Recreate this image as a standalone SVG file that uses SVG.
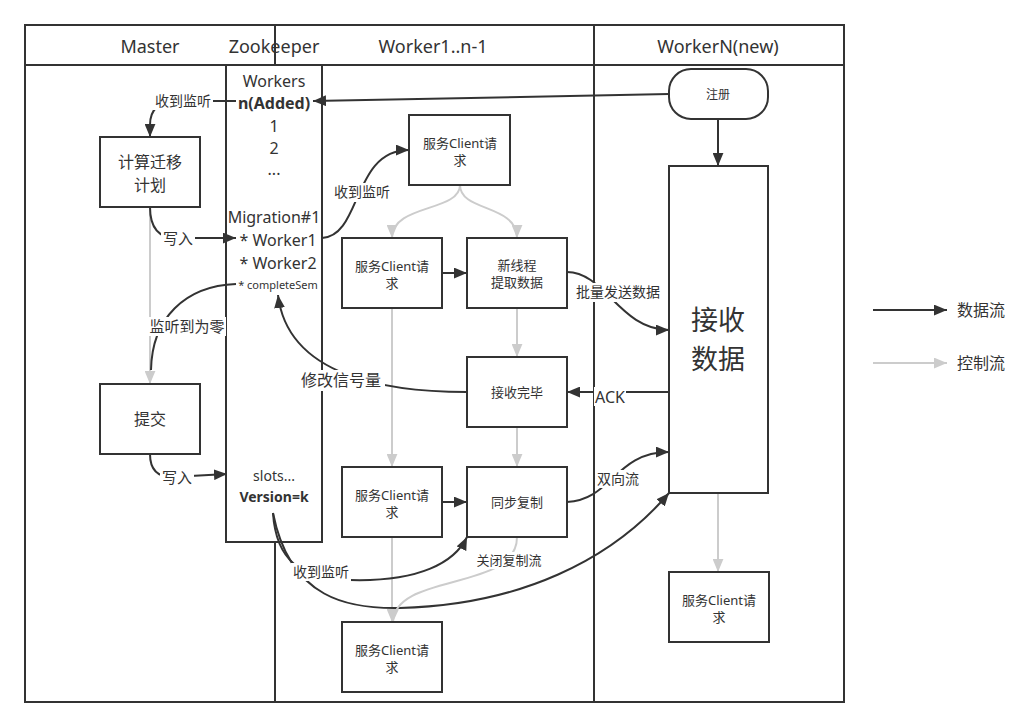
<svg xmlns="http://www.w3.org/2000/svg" width="1036" height="728" viewBox="0 0 1036 728">
<defs>
<style>
text{font-family:"Noto Sans","Noto Sans CJK SC",sans-serif;fill:#333;text-anchor:middle}
.pool{fill:none;stroke:#333;stroke-width:2}
.box{fill:#fff;stroke:#333;stroke-width:2}
.e{fill:none;stroke:#333;stroke-width:2}
.g{fill:none;stroke:#ccc;stroke-width:2}
.lb{fill:#fff}
.h{font-size:18px}
.zk{font-size:16px}
.n13{font-size:13px}
.n16{font-size:16px}
.l14{font-size:14px}
.l15{font-size:15px}
.leg{font-size:16px;text-anchor:start}
</style>
<marker id="ab" viewBox="0 0 12 10" refX="12" refY="5" markerWidth="13" markerHeight="11" markerUnits="userSpaceOnUse" orient="auto"><path d="M0,0 L12,5 L0,10 z" fill="#333"/></marker>
<marker id="ag" viewBox="0 0 12 10" refX="12" refY="5" markerWidth="13" markerHeight="11" markerUnits="userSpaceOnUse" orient="auto"><path d="M0,0 L12,5 L0,10 z" fill="#ccc"/></marker>
</defs>
<rect width="1036" height="728" fill="#fff"/>

<g id="pool-master">
<rect class="pool" x="25" y="25" width="250" height="677"/>
<line class="pool" x1="25" y1="65" x2="275" y2="65"/>
<text class="h" x="150" y="53">Master</text>
</g>
<g id="pool-worker">
<rect class="pool" x="275" y="25" width="319" height="677"/>
<line class="pool" x1="275" y1="65" x2="594" y2="65"/>
<text class="h" x="433" y="53">Worker1..n-1</text>
</g>
<g id="pool-workern">
<rect class="pool" x="594" y="25" width="250" height="677"/>
<line class="pool" x1="594" y1="65" x2="844" y2="65"/>
<text class="h" x="718" y="53">WorkerN(new)</text>
</g>
<g id="zookeeper-header">
<text class="h" x="274" y="53">Zookeeper</text>
</g>

<g id="zookeeper">
<rect class="box" x="226" y="65" width="96" height="477"/>
<text class="zk" x="274" y="87">Workers</text>
<text class="zk" x="274" y="109" font-weight="bold">n(Added)</text>
<text class="zk" x="274" y="132">1</text>
<text class="zk" x="274" y="154">2</text>
<text class="zk" x="274" y="175">...</text>
<text class="zk" x="274" y="223">Migration#1</text>
<text class="zk" x="278" y="246">* Worker1</text>
<text class="zk" x="278" y="269">* Worker2</text>
<text x="278" y="289" font-size="11px">* completeSem</text>
<text x="274" y="481" font-size="14px">slots...</text>
<text x="274" y="502" font-size="14px" font-weight="bold">Version=k</text>
</g>

<g id="connectors">
<!-- control flows (gray) -->
<path class="g" d="M150 207 L150 384" marker-end="url(#ag)"/>
<path class="g" d="M460 185 C460 212 392 204 392 238" marker-end="url(#ag)"/>
<path class="g" d="M460 185 C460 212 517 204 517 238" marker-end="url(#ag)"/>
<path class="g" d="M517 308 L517 357" marker-end="url(#ag)"/>
<path class="g" d="M517 427 L517 467" marker-end="url(#ag)"/>
<path class="g" d="M392 308 L392 467" marker-end="url(#ag)"/>
<path class="g" d="M392 537 L392 622" marker-end="url(#ag)"/>
<path class="g" d="M718 493 L718 572" marker-end="url(#ag)"/>
<!-- data flows (black) -->
<path class="e" d="M669 94 L313 101" marker-end="url(#ab)"/>
<path class="e" d="M236 101 L178 101 Q150 101 150 125 L150 137" marker-end="url(#ab)"/>
<path class="e" d="M150 207 Q150 238 176 238 L236 238" marker-end="url(#ab)"/>
<path class="e" d="M236 284 C185 286 152 318 151 370"/>
<path class="e" d="M150 454 Q150 477 172 477 L227 474" marker-end="url(#ab)"/>
<path class="e" d="M322 238 C362 236 352 150 409 150" marker-end="url(#ab)"/>
<path class="e" d="M442 273 L467 273" marker-end="url(#ab)"/>
<path class="e" d="M567 272 C605 272 620 330 669 330" marker-end="url(#ab)"/>
<path class="e" d="M669 392 L567 392" marker-end="url(#ab)"/>
<path class="e" d="M467 392 C390 392 288 378 278 295" marker-end="url(#ab)"/>
<path class="e" d="M442 502 L467 502" marker-end="url(#ab)"/>
<path class="e" d="M567 502 C612 500 615 452 669 452" marker-end="url(#ab)"/>
<path class="e" d="M273 513 C276 560 300 579 350 580 C420 582 455 562 467 537" marker-end="url(#ab)"/>
<path class="e" d="M273 513 C290 600 350 609 400 608 C520 605 612 560 669 493" marker-end="url(#ab)"/>
<path class="e" d="M718 119 L718 166" marker-end="url(#ab)"/>
<path class="g" d="M517 537 C517 592 395 572 393 622" marker-end="url(#ag)"/>
<!-- labels -->
<rect class="lb" x="153" y="92" width="60" height="18"/>
<text class="l14" x="183" y="106">收到监听</text>
<rect class="lb" x="161" y="229" width="34" height="19"/>
<text class="l15" x="178" y="244">写入</text>
<rect class="lb" x="148" y="317" width="78" height="19"/>
<text class="l15" x="187" y="332">监听到为零</text>
<rect class="lb" x="160" y="468" width="34" height="19"/>
<text class="l15" x="177" y="483">写入</text>
<rect class="lb" x="333" y="183" width="59" height="19"/>
<text class="l14" x="362" y="197">收到监听</text>
<rect class="lb" x="575" y="283" width="86" height="19"/>
<text class="l14" x="618" y="297">批量发送数据</text>
<rect class="lb" x="297" y="370" width="88" height="21"/>
<text class="n16" x="341" y="386">修改信号量</text>
<rect class="lb" x="594" y="387" width="32" height="19"/>
<text class="n16" x="610" y="403">ACK</text>
<rect class="lb" x="595" y="470" width="46" height="18"/>
<text class="l14" x="618" y="484">双向流</text>
<rect class="lb" x="291" y="563" width="60" height="18"/>
<text class="l14" x="321" y="577">收到监听</text>
<rect class="lb" x="476" y="552" width="67" height="17"/>
<text class="n13" x="509" y="565">关闭复制流</text>
</g>

<g id="plan">
<rect class="box" x="100" y="137" width="100" height="70"/>
<text class="n16" x="150" y="168">计算迁移</text>
<text class="n16" x="150" y="191">计划</text>
</g>
<g id="commit">
<rect class="box" x="100" y="384" width="100" height="70"/>
<text class="n16" x="150" y="425">提交</text>
</g>
<g id="register">
<rect class="box" x="669" y="69" width="99" height="50" rx="22" ry="22"/>
<text x="718" y="99" font-size="12px">注册</text>
</g>
<g id="receive">
<rect class="box" x="669" y="166" width="99" height="327"/>
<text x="718" y="330" font-size="27px">接收</text>
<text x="718" y="369" font-size="27px">数据</text>
</g>
<g id="client-n">
<rect class="box" x="669" y="572" width="100" height="70"/>
<text class="n13" x="719" y="605">服务Client请</text>
<text class="n13" x="719" y="622">求</text>
</g>
<g id="client-top">
<rect class="box" x="409" y="115" width="101" height="70"/>
<text class="n13" x="460" y="148">服务Client请</text>
<text class="n13" x="460" y="165">求</text>
</g>
<g id="client-2">
<rect class="box" x="342" y="238" width="100" height="70"/>
<text class="n13" x="392" y="271">服务Client请</text>
<text class="n13" x="392" y="288">求</text>
</g>
<g id="fetch">
<rect class="box" x="467" y="238" width="100" height="70"/>
<text class="n13" x="517" y="270">新线程</text>
<text class="n13" x="517" y="287">提取数据</text>
</g>
<g id="recv-done">
<rect class="box" x="467" y="357" width="100" height="70"/>
<text class="n13" x="517" y="397">接收完毕</text>
</g>
<g id="client-3">
<rect class="box" x="342" y="467" width="100" height="70"/>
<text class="n13" x="392" y="500">服务Client请</text>
<text class="n13" x="392" y="517">求</text>
</g>
<g id="sync">
<rect class="box" x="467" y="467" width="100" height="70"/>
<text class="n13" x="517" y="507">同步复制</text>
</g>
<g id="client-4">
<rect class="box" x="342" y="622" width="100" height="70"/>
<text class="n13" x="392" y="655">服务Client请</text>
<text class="n13" x="392" y="672">求</text>
</g>

<g id="legend">
<path class="e" d="M873 310 L947 310" marker-end="url(#ab)"/>
<text class="leg" x="957" y="316">数据流</text>
<path class="g" d="M873 363 L947 363" marker-end="url(#ag)"/>
<text class="leg" x="957" y="369">控制流</text>
</g>
</svg>
